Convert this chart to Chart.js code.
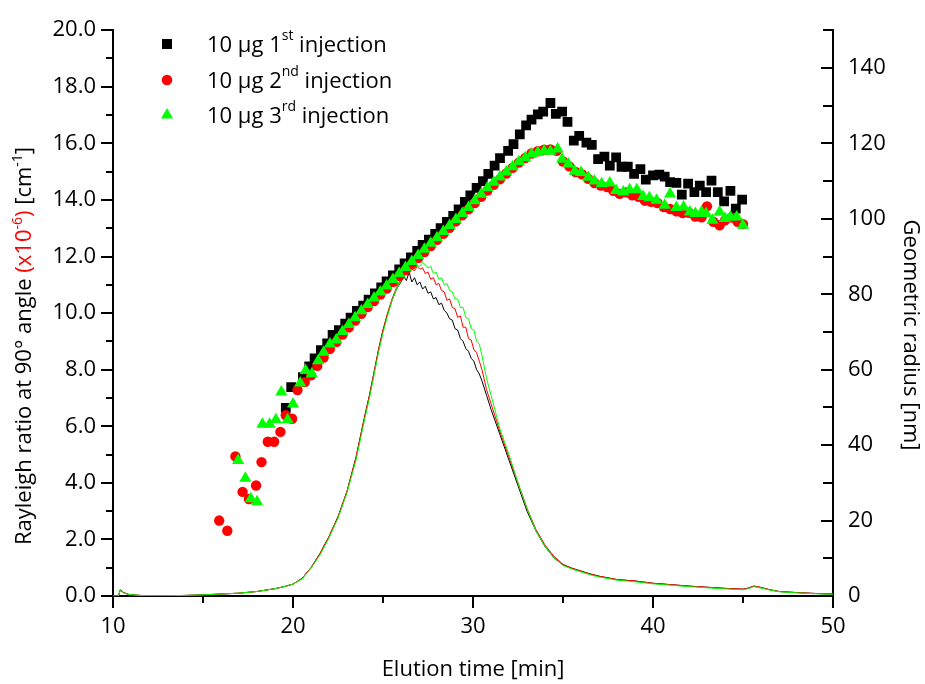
<!DOCTYPE html>
<html lang="en">
<head>
<meta charset="UTF-8">
<title>Rayleigh ratio and geometric radius</title>
<script src="https://cdn.jsdelivr.net/npm/chart.js"></script>
<style>
  body { margin: 0; background: #fff; }
  #wrap { width: 925px; height: 684px; }
</style>
</head>
<body>
<div id="wrap"><canvas id="chart" width="925" height="684"></canvas></div>
<script>
// Geometric radius (right axis), one series per injection
const blackT = [19.6,19.9,20.55,20.9,21.2,21.55,21.9,22.2,22.55,22.9,23.2,23.55,23.9,24.2,24.55,24.9,25.2,25.55,25.9,26.2,26.55,26.9,27.2,27.55,27.9,28.2,28.55,28.9,29.2,29.55,29.85,30.2,30.55,30.85,31.2,31.5,31.95,32.25,32.6,32.95,33.25,33.6,33.9,34.3,34.6,34.95,35.25,35.6,35.9,36.3,36.6,36.95,37.3,37.6,37.95,38.25,38.6,38.95,39.3,39.6,40.0,40.35,40.65,40.95,41.3,41.6,41.95,42.3,42.6,42.95,43.25,43.6,43.95,44.3,44.6,44.95];
const blackR = [49.9,55.4,58.0,60.9,63.0,65.2,67.0,69.2,70.5,72.2,73.8,75.6,77.0,78.6,80.2,81.8,83.4,85.0,86.6,88.2,89.8,91.5,93.1,94.5,96.0,97.5,99.2,100.8,102.5,104.5,106.2,108.2,110.0,111.9,114.1,116.1,118.0,119.8,122.4,124.8,126.3,127.7,128.4,130.7,127.8,128.4,125.7,120.7,122.0,120.2,119.6,115.8,116.5,114.1,116.3,113.8,113.8,111.9,113.2,110.4,111.5,111.7,111.2,109.7,109.5,106.4,109.3,107.1,108.8,107.1,110.1,107.1,104.6,107.4,102.7,105.1];

const redT = [15.9,16.35,16.8,17.2,17.55,17.95,18.25,18.6,18.95,19.3,19.6,19.95,20.25,20.65,21.0,21.35,21.7,22.05,22.4,22.75,23.1,23.45,23.8,24.15,24.5,24.85,25.2,25.55,25.9,26.25,26.6,26.95,27.3,27.65,28.0,28.35,28.7,29.05,29.4,29.75,30.1,30.45,30.8,31.15,31.5,31.85,32.2,32.55,32.9,33.25,33.6,33.95,34.3,34.65,35.0,35.35,35.7,36.05,36.4,36.75,37.1,37.45,37.8,38.15,38.5,38.85,39.2,39.55,39.9,40.25,40.6,40.95,41.3,41.65,42.0,42.35,42.7,43.0,43.35,43.7,44.0,44.35,44.7,45.0];
const redR = [20.0,17.3,37.0,27.6,25.7,29.3,35.5,40.9,40.9,43.5,47.9,47.0,54.6,56.7,58.5,61.0,63.2,65.5,67.3,69.3,71.2,73.0,74.8,76.6,78.2,79.9,81.5,83.2,84.8,86.4,88.0,89.6,91.2,92.8,94.4,96.0,97.6,99.3,100.9,102.5,104.2,105.8,107.5,109.0,110.5,112.0,113.5,114.9,116.1,117.3,117.9,118.3,118.4,118.0,115.2,113.9,112.4,111.8,110.6,109.5,108.8,108.4,107.4,106.6,107.0,106.2,105.8,104.8,104.5,104.2,103.1,102.6,102.0,101.5,101.6,100.6,100.4,103.3,99.2,98.3,99.6,100.3,99.2,98.6];

const greenT = [16.95,17.35,17.65,18.0,18.3,18.7,19.05,19.35,19.7,20.0,20.4,20.7,21.05,21.4,21.7,22.05,22.4,22.75,23.1,23.45,23.8,24.15,24.5,24.85,25.2,25.55,25.9,26.25,26.6,26.95,27.3,27.65,28.0,28.35,28.7,29.05,29.4,29.75,30.1,30.45,30.8,31.15,31.5,31.85,32.2,32.55,32.9,33.25,33.6,33.95,34.3,34.7,34.95,35.3,35.65,36.0,36.4,36.75,37.15,37.6,37.95,38.35,38.7,39.1,39.45,39.8,40.2,40.65,40.95,41.3,41.7,42.05,42.35,42.7,42.95,43.3,43.7,44.0,44.3,44.65,45.0];
const greenR = [35.9,31.2,25.8,25.0,45.5,45.5,46.7,54.1,46.7,50.9,56.5,59.8,58.9,62.4,64.6,66.8,67.9,70.1,72.0,73.8,75.6,77.3,79.0,80.6,82.2,83.9,85.5,87.1,88.7,90.3,91.9,93.5,95.0,96.6,98.2,99.8,101.4,103.0,104.8,106.5,108.2,109.7,111.1,112.4,113.8,115.1,116.2,117.2,117.6,118.0,117.9,118.5,115.8,114.5,112.6,112.3,111.0,110.0,109.3,109.5,107.5,107.1,107.7,107.7,105.9,105.6,104.9,103.6,106.6,103.0,103.1,101.8,101.4,101.8,101.4,99.6,101.8,100.1,100.5,100.5,98.3];

// Rayleigh ratio (left axis, x10^-6 cm^-1)
const lineT = [10.0,10.3,10.4,10.6,10.9,11.5,12,13,14,15,16,17,18,19,19.5,20,20.5,21,21.5,22,22.5,23,23.5,24,24.25,24.5,24.75,25,25.25,25.5,25.75,26,26.15,26.3,26.45,26.6,26.75,26.9,27.05,27.2,27.35,27.5,27.65,27.8,27.95,28.1,28.25,28.4,28.55,28.7,28.85,29,29.15,29.3,29.45,29.6,29.75,29.9,30.05,30.2,30.35,30.5,30.75,31,31.5,32,32.5,33,33.5,34,34.5,35,35.5,36,36.5,37,38,39,40,41,42,43,44,45,45.3,45.6,46,46.5,47,48,49,50];
const lineBlack = [0.0,0.0,0.22,0.12,0.05,0.02,0.01,0.01,0.02,0.04,0.07,0.10,0.16,0.26,0.33,0.42,0.62,1.0,1.5,2.1,2.8,3.7,4.9,6.4,7.1,7.9,8.7,9.4,9.95,10.45,10.85,11.1,11.3,11.15,11.45,11.1,11.25,11.0,11.1,10.85,10.95,10.7,10.75,10.5,10.55,10.3,10.35,10.1,10.0,9.8,9.75,9.45,9.4,9.1,9.0,8.75,8.65,8.4,8.3,8.0,7.85,7.6,7.1,6.6,5.7,4.8,3.9,3.0,2.3,1.75,1.35,1.1,0.98,0.88,0.78,0.70,0.58,0.53,0.45,0.40,0.35,0.31,0.27,0.24,0.28,0.35,0.30,0.22,0.16,0.12,0.09,0.07];
const lineRed = [0.0,0.0,0.2,0.11,0.05,0.02,0.01,0.01,0.02,0.04,0.07,0.10,0.16,0.26,0.33,0.42,0.62,1.0,1.5,2.1,2.8,3.7,4.9,6.4,7.1,7.9,8.7,9.4,10.0,10.5,10.9,11.2,11.3,11.45,11.4,11.55,11.5,11.65,11.55,11.6,11.4,11.45,11.2,11.25,11.0,11.05,10.8,10.75,10.45,10.5,10.2,10.15,9.85,9.9,9.5,9.5,9.1,9.05,8.7,8.6,8.3,8.0,7.3,6.8,5.8,4.9,4.0,3.1,2.35,1.8,1.4,1.12,0.98,0.88,0.78,0.70,0.58,0.53,0.45,0.40,0.35,0.31,0.27,0.24,0.28,0.35,0.30,0.22,0.16,0.12,0.09,0.07];
const lineGreen = [0.0,0.0,0.2,0.11,0.05,0.02,0.01,0.01,0.02,0.04,0.07,0.10,0.16,0.26,0.33,0.42,0.60,0.98,1.45,2.05,2.75,3.65,4.8,6.3,7.0,7.8,8.6,9.3,9.9,10.45,10.85,11.15,11.25,11.4,11.45,11.6,11.55,11.7,11.65,11.8,11.7,11.6,11.65,11.4,11.45,11.2,11.25,11.0,11.05,10.8,10.75,10.5,10.5,10.2,10.2,9.85,9.8,9.45,9.4,9.0,8.9,8.5,7.7,7.1,5.9,5.0,4.0,3.1,2.3,1.75,1.35,1.08,0.95,0.85,0.75,0.67,0.56,0.50,0.43,0.38,0.33,0.29,0.25,0.22,0.26,0.33,0.28,0.21,0.15,0.11,0.08,0.06];

const legendLabels = [['10 µg 1', 'st', ' injection'], ['10 µg 2', 'nd', ' injection'], ['10 µg 3', 'rd', ' injection']];
const FONT = '"Open Sans", sans-serif';
const BLACK = '#000000', RED = '#ff0000', GREEN = '#00ff00';

const pts = (t, v) => t.map((x, i) => ({ x: x, y: v[i] }));

function drawRich(ctx, parts, x, y, size, supSize, rise) {
    parts.forEach(p => {
        ctx.font = (p.sup ? supSize : size) + 'px ' + FONT;
        ctx.fillStyle = p.color || '#000';
        ctx.fillText(p.text, x, p.sup ? y - rise : y);
        x += ctx.measureText(p.text).width;
    });
}
function richWidth(ctx, parts, size, supSize) {
    let w = 0;
    parts.forEach(p => {
        ctx.font = (p.sup ? supSize : size) + 'px ' + FONT;
        w += ctx.measureText(p.text).width;
    });
    return w;
}

const decor = {
    id: 'decor',
    afterDraw(chart) {
        const ctx = chart.ctx;
        const a = chart.chartArea;
        const xs = chart.scales.x, yl = chart.scales.y, yr = chart.scales.y2;
        ctx.save();

        // tick marks, major and minor
        ctx.strokeStyle = '#000';
        ctx.lineWidth = 2;
        ctx.beginPath();
        for (let v = 0; v <= 20; v += 1) {
            const y = Math.round(yl.getPixelForValue(v));
            const len = v % 2 === 0 ? 12 : 7;
            ctx.moveTo(a.left - len, y); ctx.lineTo(a.left, y);
        }
        for (let t = 10; t <= 50; t += 5) {
            const x = Math.round(xs.getPixelForValue(t));
            const len = t % 10 === 0 ? 12 : 7;
            ctx.moveTo(x, a.bottom); ctx.lineTo(x, a.bottom + len);
        }
        for (let r = 0; r <= 150; r += 10) {
            const y = Math.round(yr.getPixelForValue(r));
            const len = r % 20 === 0 ? 12 : 10;
            ctx.moveTo(a.right - len, y); ctx.lineTo(a.right, y);
        }
        ctx.stroke();

        ctx.textBaseline = 'alphabetic';
        ctx.textAlign = 'left';

        // bottom title
        ctx.font = '22px ' + FONT;
        ctx.fillStyle = '#000';
        const bt = 'Elution time [min]';
        ctx.fillText(bt, (a.left + a.right) / 2 - ctx.measureText(bt).width / 2, 676);

        // left title
        const leftParts = [
            { text: 'Rayleigh ratio at 90° angle ' },
            { text: '(x10', color: RED },
            { text: '-6', color: RED, sup: true },
            { text: ')', color: RED },
            { text: ' [cm' },
            { text: '-1', sup: true },
            { text: ']' }
        ];
        const lw = richWidth(ctx, leftParts, 22, 14);
        ctx.save();
        ctx.translate(31, 346);
        ctx.rotate(-Math.PI / 2);
        drawRich(ctx, leftParts, -lw / 2, 0, 22, 14, 9);
        ctx.restore();

        // right title
        const rt = 'Geometric radius [nm]';
        ctx.font = '22px ' + FONT;
        const rw = ctx.measureText(rt).width;
        ctx.save();
        ctx.translate(904, 335);
        ctx.rotate(Math.PI / 2);
        ctx.fillText(rt, -rw / 2, 0);
        ctx.restore();

        // legend
        const rows = [52, 88, 123];
        const mx = 167;
        rows.forEach((by, i) => {
            const cy = by - 8;
            ctx.fillStyle = [BLACK, RED, GREEN][i];
            ctx.beginPath();
            if (i === 0) {
                ctx.rect(mx - 5, cy - 5, 10, 10);
            } else if (i === 1) {
                ctx.arc(mx, cy, 5.3, 0, Math.PI * 2);
            } else {
                ctx.moveTo(mx, cy - 7);
                ctx.lineTo(mx + 6, cy + 3.5);
                ctx.lineTo(mx - 6, cy + 3.5);
                ctx.closePath();
            }
            ctx.fill();
            const l = legendLabels[i];
            drawRich(ctx, [{ text: l[0] }, { text: l[1], sup: true }, { text: l[2] }], 207, by, 22, 14, 12);
        });

        ctx.restore();
    }
};

const tickFont = { family: FONT, size: 22 };

new Chart(document.getElementById('chart'), {
    type: 'scatter',
    data: {
        datasets: [
            { label: '10 µg 3rd injection', data: pts(greenT, greenR), yAxisID: 'y2', order: 0,
              pointStyle: 'triangle', pointRadius: 7, backgroundColor: GREEN, borderWidth: 0 },
            { label: '10 µg 2nd injection', data: pts(redT, redR), yAxisID: 'y2', order: 1,
              pointStyle: 'circle', pointRadius: 5.2, backgroundColor: RED, borderWidth: 0 },
            { label: '10 µg 1st injection', data: pts(blackT, blackR), yAxisID: 'y2', order: 2,
              pointStyle: 'rect', pointRadius: 6.9, backgroundColor: BLACK, borderWidth: 0 },
            { label: 'Rayleigh 3rd', data: pts(lineT, lineGreen), yAxisID: 'y', order: 3,
              showLine: true, pointRadius: 0, borderColor: GREEN, borderWidth: 1 },
            { label: 'Rayleigh 2nd', data: pts(lineT, lineRed), yAxisID: 'y', order: 4,
              showLine: true, pointRadius: 0, borderColor: RED, borderWidth: 1 },
            { label: 'Rayleigh 1st', data: pts(lineT, lineBlack), yAxisID: 'y', order: 5,
              showLine: true, pointRadius: 0, borderColor: BLACK, borderWidth: 1 }
        ]
    },
    options: {
        responsive: false,
        animation: false,
        layout: { padding: { top: 25, left: 0, right: 0, bottom: 0 } },
        plugins: { legend: { display: false }, tooltip: { enabled: false } },
        scales: {
            x: {
                type: 'linear', min: 10, max: 50,
                afterFit(s) { s.height = 88; },
                ticks: { stepSize: 10, padding: 18, color: '#000', font: tickFont, maxRotation: 0 },
                grid: { display: false, drawTicks: false },
                border: { display: true, color: '#000', width: 2 }
            },
            y: {
                position: 'left', min: 0, max: 20,
                afterFit(s) { s.width = 113; },
                ticks: { stepSize: 2, padding: 17, color: '#000', font: tickFont, callback: v => v.toFixed(1) },
                grid: { display: false, drawTicks: false },
                border: { display: true, color: '#000', width: 2 }
            },
            y2: {
                position: 'right', min: 0, max: 150,
                afterFit(s) { s.width = 92; },
                afterBuildTicks(s) { s.ticks = s.ticks.filter(t => t.value <= 140); },
                ticks: { stepSize: 20, padding: 15, color: '#000', font: tickFont },
                grid: { display: false, drawTicks: false },
                border: { display: true, color: '#000', width: 2 }
            }
        }
    },
    plugins: [decor]
});
</script>
</body>
</html>
